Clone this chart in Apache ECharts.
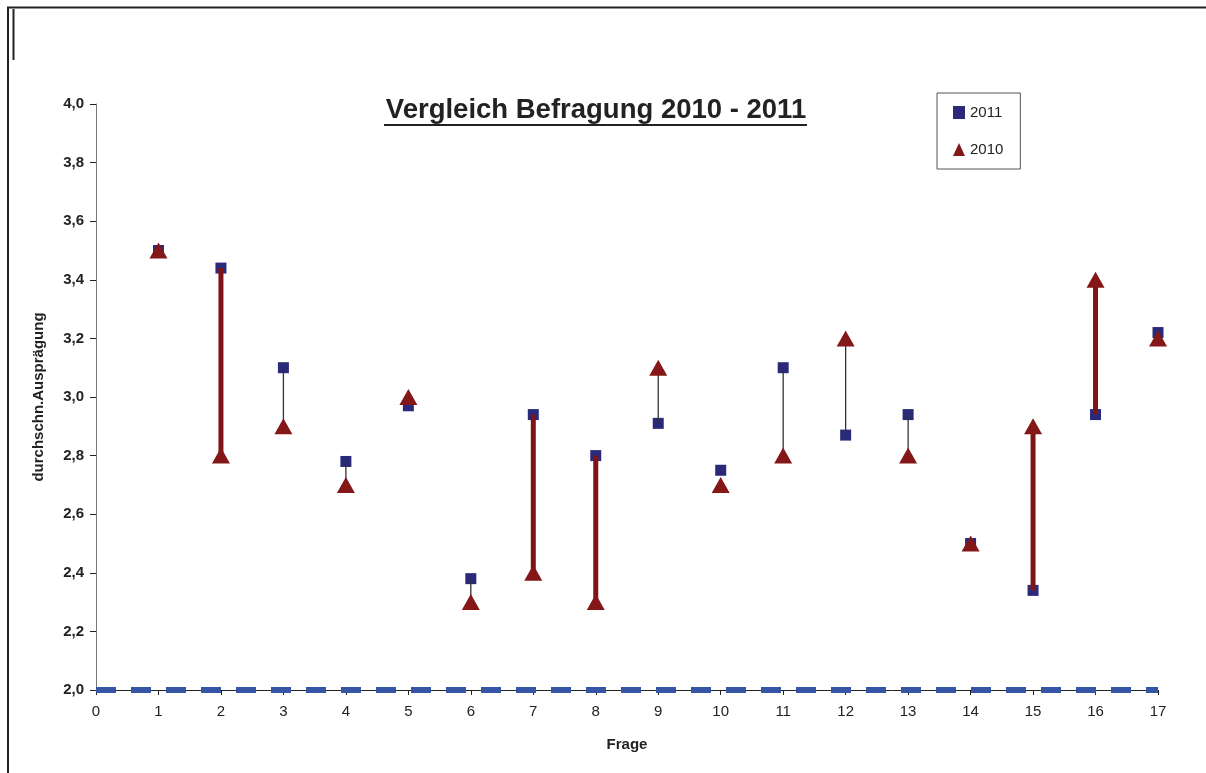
<!DOCTYPE html>
<html>
<head>
<meta charset="utf-8">
<script src="https://cdn.jsdelivr.net/npm/echarts@6/dist/echarts.min.js"></script>
<style>
html,body{margin:0;padding:0;background:#fff;}
#chart{width:1206px;height:773px;}
</style>
</head>
<body>
<div id="chart"></div>
<script>
const frage = [1,2,3,4,5,6,7,8,9,10,11,12,13,14,15,16,17];
const v2011 = [3.50,3.44,3.10,2.78,2.97,2.38,2.94,2.80,2.91,2.75,3.10,2.87,2.94,2.50,2.34,2.94,3.22];
const v2010 = [3.5,2.8,2.9,2.7,3.0,2.3,2.4,2.3,3.1,2.7,2.8,3.2,2.8,2.5,2.9,3.4,3.2];
const baseLine = [[0,2.0],[17,2.0]];
const titleText = 'Vergleich Befragung 2010 - 2011';

const chart = echarts.init(document.getElementById('chart'), null, {renderer:'canvas'});

const pts2011 = frage.map((f,i)=>[f, v2011[i]]);
const pts2010 = frage.map((f,i)=>[f, v2010[i]]);
const pairs = frage.map((f,i)=>[f, v2011[i], v2010[i]]);

function linkRenderer(thick){
  return function(params, api){
    const x = api.value(0), a = api.value(1), b = api.value(2);
    const d = Math.abs(a-b);
    const isThick = d >= 0.4;
    if (isThick !== thick || d < 0.07) return null;
    const p1 = api.coord([x,a]);
    const p2 = api.coord([x,b]);
    return {
      type:'line',
      shape:{x1:p1[0], y1:p1[1], x2:p2[0], y2:p2[1]},
      style: thick ? {stroke:'#7f1416', lineWidth:5} : {stroke:'#333', lineWidth:1.3}
    };
  };
}

const option = {
  backgroundColor:'#fff',
  animation:false,
  grid:{left:96, right:48, top:104, bottom:83, containLabel:false},
  legend:{
    orient:'vertical', left:937, top:93,
    padding:[12,17,12,16], itemGap:22, itemWidth:12, itemHeight:13,
    borderColor:'#555', borderWidth:1,
    textStyle:{fontSize:15, color:'#222', fontFamily:'Liberation Sans, Arial, sans-serif'},
    data:[{name:'2011', icon:'rect'},{name:'2010', icon:'triangle'}]
  },
  xAxis:{
    type:'value', min:0, max:17, interval:1,
    name:'Frage', nameLocation:'middle', nameGap:47,
    nameTextStyle:{fontSize:15, fontWeight:'bold', color:'#222', fontFamily:'Liberation Sans, Arial, sans-serif'},
    axisLine:{show:true, onZero:false, lineStyle:{color:'#222', width:1}},
    axisTick:{show:true, length:5, lineStyle:{color:'#222'}},
    axisLabel:{fontSize:15, color:'#222', margin:14, fontFamily:'Liberation Sans, Arial, sans-serif'},
    splitLine:{show:false}
  },
  yAxis:{
    type:'value', min:2.0, max:4.0, interval:0.2,
    name:'durchschn.Ausprägung', nameLocation:'middle', nameGap:50, nameRotate:90,
    nameTextStyle:{fontSize:15, fontWeight:'bold', color:'#222', fontFamily:'Liberation Sans, Arial, sans-serif'},
    axisLine:{show:true, lineStyle:{color:'#777', width:1}},
    axisTick:{show:true, length:6, lineStyle:{color:'#222'}},
    axisLabel:{fontSize:15, fontWeight:'bold', color:'#222', margin:12,
      fontFamily:'Liberation Sans, Arial, sans-serif',
      formatter:v=>v.toFixed(1).replace('.',',')},
    splitLine:{show:false}
  },
  series:[
    {
      name:'base', type:'line', data:baseLine, symbol:'none', z:3, clip:false,
      lineStyle:{color:'#3556a6', width:6, type:[20,15], opacity:1}, silent:true
    },
    {
      name:'2011', type:'scatter', data:pts2011, symbol:'rect', symbolSize:11, z:4,
      itemStyle:{color:'#2a2a7a', opacity:1}
    },
    {
      name:'thick', type:'custom', data:pairs, renderItem:linkRenderer(true), z:5, silent:true,
      encode:{x:0, y:[1,2]}
    },
    {
      name:'2010', type:'scatter', data:pts2010, symbol:'triangle', symbolSize:[18,16], z:6,
      itemStyle:{color:'#841818', opacity:1}
    },
    {
      name:'thin', type:'custom', data:pairs, renderItem:linkRenderer(false), z:5, silent:true,
      encode:{x:0, y:[1,2]}
    }
  ],
  graphic:[
    {type:'line', shape:{x1:7, y1:7.5, x2:1206, y2:7.5}, style:{stroke:'#222', lineWidth:2}, z:100},
    {type:'line', shape:{x1:8, y1:7, x2:8, y2:773}, style:{stroke:'#222', lineWidth:2}, z:100},
    {type:'line', shape:{x1:13.5, y1:9, x2:13.5, y2:60}, style:{stroke:'#222', lineWidth:2}, z:100},
    {type:'text', x:596, y:110, z:100,
      style:{text:titleText, font:'bold 27.5px "Liberation Sans", Arial, sans-serif', fill:'#222',
        textAlign:'center', textVerticalAlign:'middle'}},
    {type:'rect', shape:{x:384, y:124, width:423, height:2}, style:{fill:'#222'}, z:100}
  ]
};
chart.setOption(option);
</script>
</body>
</html>
